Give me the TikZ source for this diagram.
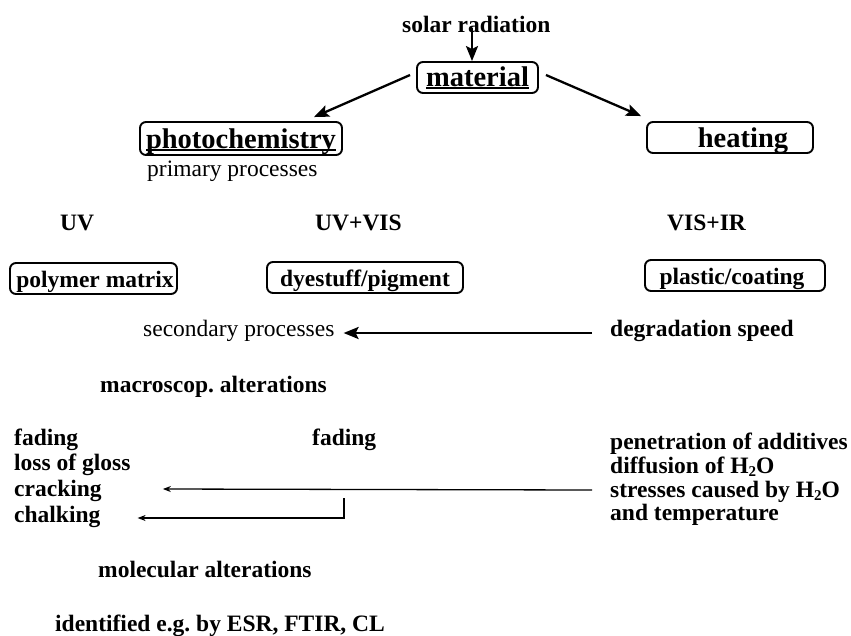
\documentclass[tikz,border=0pt]{standalone}
\usepackage{fontspec}
\setmainfont{Liberation Serif}
\usetikzlibrary{arrows.meta,calc}
\newcommand\myul[1]{\setbox0\hbox{#1}\rlap{\rule[-2.5pt]{\wd0}{1.4pt}}\box0}
\newcommand\Hto{H\raisebox{-3.5pt}{\fontsize{15}{15}\selectfont 2}O}
\frenchspacing
\begin{document}
\begin{tikzpicture}[x=1pt,y=-1pt,
  every node/.style={inner sep=0pt, font=\fontsize{23.5}{26}\selectfont\bfseries},
  lbl/.style={anchor=base west},
  md/.style={font=\fontsize{23.5}{26}\selectfont\mdseries},
  ttl/.style={font=\fontsize{28.5}{30}\selectfont\bfseries},
  box/.style={draw, line width=1.9pt, rounded corners=6pt, anchor=base, inner xsep=0pt, inner ysep=1pt, text height=23pt, text depth=6pt},
  big/.style={-{Stealth[length=15pt,width=12pt,inset=3pt]}, line width=2.3pt},
  slim/.style={-{Stealth[length=8pt,width=6pt]}, line width=1.3pt},
]
\fill[white] (0,0) rectangle (851,635);
\useasboundingbox (0,0) rectangle (851,635);

\node[lbl] (solar) at (402,32) {solar radiation};
\node[box, ttl, minimum width=121pt] (material) at (477.5,86) {\myul{material}};
\node[box, ttl, minimum width=202pt, text height=25pt] (photo) at (241,148) {\myul{photochemistry}};
\node[lbl, md] (primary) at (147,176) {primary processes};
\node[box, ttl, minimum width=166pt, text height=24pt, text depth=5pt] (heating) at (730,147) {\hspace*{26pt}heating};

\node[lbl] (uv) at (60,230) {UV};
\node[lbl] (uvvis) at (315,230) {UV+VIS};
\node[lbl] (visir) at (667,230) {VIS+IR};

\node[box, minimum width=167pt] (polymer) at (93.5,287) {\hspace*{3pt}polymer matrix};
\node[box, minimum width=196pt] (dye) at (365,286) {dyestuff/pigment};
\node[box, minimum width=180pt] (plastic) at (735,284) {\hspace*{-6pt}plastic/coating};

\node[lbl, md] (secondary) at (143,336) {secondary processes};
\node[lbl] (degr) at (610,336) {degradation speed};
\node[lbl] (macro) at (100,392) {macroscop. alterations};

\node[lbl] (fad1) at (14,445) {fading};
\node[lbl] (loss) at (14,470) {loss of gloss};
\node[lbl] (crack) at (14,496) {cracking};
\node[lbl] (chalk) at (14,522) {chalking};
\node[lbl] (fad2) at (312,445) {fading};

\node[lbl] (pen) at (610,449) {penetration of additives};
\node[lbl] (diff) at (610,473) {diffusion of \Hto};
\node[lbl] (stress) at (610,497) {stresses caused by \Hto};
\node[lbl] (temp) at (610,520) {and temperature};

\node[lbl] (mol) at (98,577) {molecular alterations};
\node[lbl] (ident) at (55,631) {identified e.g. by ESR, FTIR, CL};

% connectors
\coordinate (s0) at (472,28);
\draw[big] (s0) -- (s0 |- material.north);
\draw[big] ($(material.west)+(-6,-2.5)$) -- ($(photo.north east)+(-29,-4)$);
\draw[big] ($(material.east)+(7,-2.5)$) -- ($(heating.north west)+(-5,-5)$);
\draw[big, line width=2.6pt] ($(degr.base west)+(-18,-3)$) -- ($(secondary.base east)+(9,-3)$);
\draw[slim] ($(stress.base west)+(-18,-7)$) -- ($(crack.base east)+(61,-7)$);
\coordinate (cc) at (344,498);
\draw[slim] (cc) |- ($(chalk.base east)+(37,-4)$);
\end{tikzpicture}
\end{document}
